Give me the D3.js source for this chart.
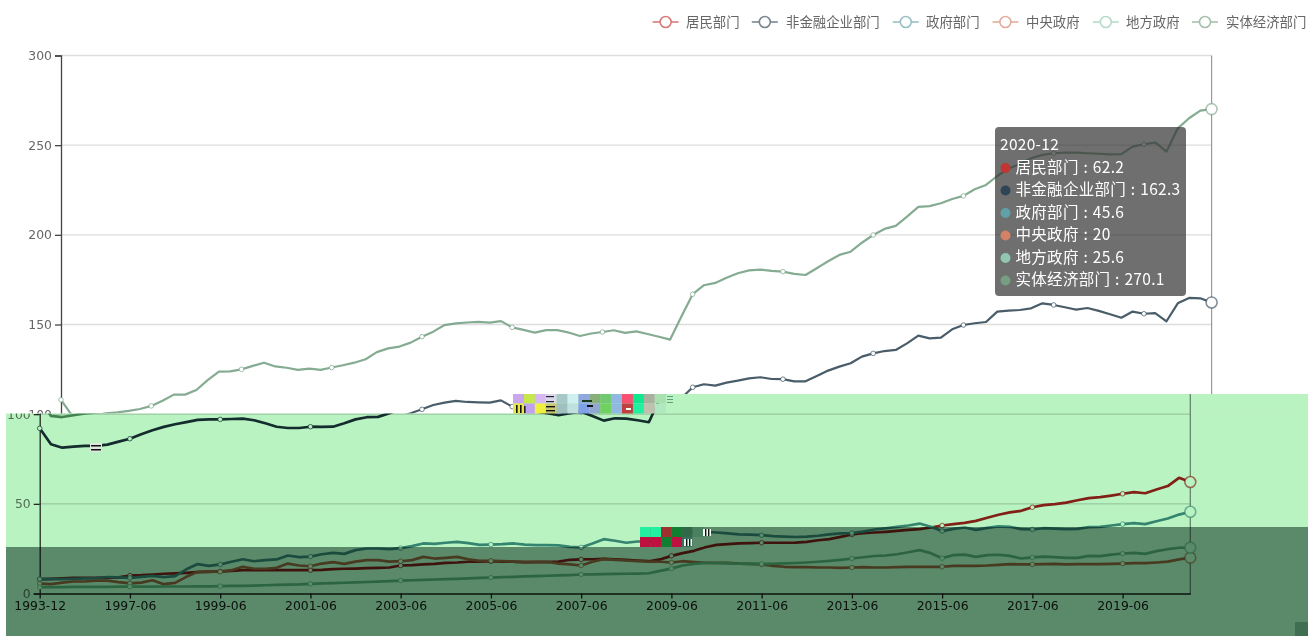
<!DOCTYPE html>
<html>

<head>
    <meta charset="utf-8">
    <style>
        html, body {
            margin: 0;
            padding: 0;
            background: #fff;
            overflow: hidden;
        }

        svg {
            display: block;
        }

        .axis text {
            font-family: "DejaVu Sans", sans-serif;
            font-size: 12.4px;
        }

        .x.axis text {
            fill: #333;
        }

        .legend-label {
            font-family: "Noto Sans CJK SC", sans-serif;
            font-size: 13.4px;
            fill: #666;
        }

        .tip-text {
            font-family: "Noto Sans CJK SC", sans-serif;
            font-size: 15.5px;
            letter-spacing: 0.3px;
            word-spacing: 1px;
            fill: #fff;
        }

        .tint {
            mix-blend-mode: multiply;
        }
    </style>
</head>

<body>
    <svg width="1308" height="636"></svg>

    <script src="https://d3js.org/d3.v7.min.js"></script>

    <script>
        // first three points are yearly, quarterly after that
        const months = ["1993-12", "1994-12", "1995-12",
            "1996-03", "1996-06", "1996-09", "1996-12",
            "1997-03", "1997-06", "1997-09", "1997-12",
            "1998-03", "1998-06", "1998-09", "1998-12",
            "1999-03", "1999-06", "1999-09", "1999-12",
            "2000-03", "2000-06", "2000-09", "2000-12",
            "2001-03", "2001-06", "2001-09", "2001-12",
            "2002-03", "2002-06", "2002-09", "2002-12",
            "2003-03", "2003-06", "2003-09", "2003-12",
            "2004-03", "2004-06", "2004-09", "2004-12",
            "2005-03", "2005-06", "2005-09", "2005-12",
            "2006-03", "2006-06", "2006-09", "2006-12",
            "2007-03", "2007-06", "2007-09", "2007-12",
            "2008-03", "2008-06", "2008-09", "2008-12",
            "2009-03", "2009-06", "2009-09", "2009-12",
            "2010-03", "2010-06", "2010-09", "2010-12",
            "2011-03", "2011-06", "2011-09", "2011-12",
            "2012-03", "2012-06", "2012-09", "2012-12",
            "2013-03", "2013-06", "2013-09", "2013-12",
            "2014-03", "2014-06", "2014-09", "2014-12",
            "2015-03", "2015-06", "2015-09", "2015-12",
            "2016-03", "2016-06", "2016-09", "2016-12",
            "2017-03", "2017-06", "2017-09", "2017-12",
            "2018-03", "2018-06", "2018-09", "2018-12",
            "2019-03", "2019-06", "2019-09", "2019-12",
            "2020-03", "2020-06", "2020-09", "2020-12"]

        const xTicks = ["1993-12", "1997-06", "1999-06", "2001-06", "2003-06", "2005-06", "2007-06",
            "2009-06", "2011-06", "2013-06", "2015-06", "2017-06", "2019-06"]
        const yTicks = [0, 50, 100, 150, 200, 250, 300]

        const names = ["居民部门", "非金融企业部门", "政府部门", "中央政府", "地方政府", "实体经济部门"]
        const colors = ["#c23531", "#2f4554", "#61a0a8", "#d48265", "#91c7ae", "#749f83"]

        const resident = [8, 8.2, 8.5, 8.7, 8.7, 8.7, 8.8, 9, 10, 10.2,
            10.6, 11, 11.2, 11.5, 11.9, 12.1, 12.3, 12.6, 13, 13,
            13, 13, 13, 13, 13, 13.2, 13.6, 13.8, 13.9, 14.1,
            14.3, 14.5, 15.6, 15.8, 16.2, 16.5, 17.1, 17.3, 17.7, 17.8,
            18, 17.8, 17.7, 17.5, 17.5, 17.5, 17.8, 18.8, 19, 19.1,
            19.3, 19.1, 18.8, 18.4, 18, 19, 21, 22.5, 23.8, 25.8,
            27.1, 27.5, 27.9, 28.1, 28.3, 28.3, 28.3, 28.4, 28.8, 29.7,
            30.3, 31.6, 32.9, 33.6, 34, 34.4, 34.9, 35.5, 35.9, 36.8,
            37.9, 38.7, 39.4, 40.5, 42.2, 43.9, 45.2, 46.1, 48.1, 49.3,
            49.8, 50.7, 52, 53.2, 53.7, 54.6, 55.6, 56.5, 55.9, 58,
            59.9, 64.5, 62.2]

        const nonfinancial = [92.1, 83.2, 81.3, 81.9, 82.3, 82.3, 83, 84.7, 86.3, 88.8,
            91, 92.9, 94.4, 95.6, 96.8, 97.1, 97.1, 97.3, 97.5, 96.6,
            94.9, 93, 92.3, 92.3, 93, 92.9, 93, 94.9, 97.1, 98.3,
            98.5, 100.5, 102.7, 105.1, 106.4, 107.4, 106.8, 106.6, 106.4, 107.7,
            104.2, 103.5, 103, 102.5, 101.5, 100.5, 99.5, 100.5, 101.4, 99,
            96.4, 97.7, 97.5, 96.6, 95.5, 109, 115, 116.7, 115.9, 117.6,
            118.7, 120, 120.6, 119.6, 119.5, 118.3, 118.3, 121.3, 124.3, 126.5,
            128.4, 132.1, 133.9, 135.2, 135.8, 139.5, 143.8, 142.3, 142.7, 147.3,
            149.7, 150.7, 151.4, 157.2, 157.7, 158.1, 159, 161.8, 160.9, 159.6,
            158.3, 159.2, 157.6, 155.7, 153.8, 157.2, 156, 156.3, 151.8, 161.8,
            164.8, 164.6, 162.3]

        const government = [8, 8, 8, 8.2, 8.4, 8.6, 9.2, 9, 8.7, 9.3,
            9.8, 9.1, 9.7, 13.5, 16.4, 15.4, 16.2, 17.7, 19.1, 18,
            18.6, 19, 21.2, 20.3, 20.6, 21.9, 22.7, 22.1, 24.2, 25.1,
            25.1, 24.7, 25.3, 26.4, 27.9, 27.7, 28.3, 28.8, 28.1, 27.1,
            27.3, 27.5, 27.9, 27.3, 27, 27, 26.8, 26, 25.7, 27.9,
            30.3, 29.4, 28.3, 29, 29, 29.5, 30, 32.5, 34, 34.4,
            34, 33.5, 33, 32.8, 32.5, 32, 31.7, 31.5, 31.7, 32.2,
            33, 33.5, 33.7, 34.5, 35.7, 36.4, 37.2, 37.9, 39, 37.2,
            34.8, 36, 36.8, 35.5, 36.6, 37.4, 37.2, 35.9, 35.7, 36.4,
            36.2, 35.9, 36, 37, 37.2, 37.9, 38.7, 39.2, 38.7, 40.3,
            41.8, 44, 45.6]

        const central = [5.5, 5.2, 6.1, 6.7, 6.7, 7.2, 7.2, 6.3, 5.6, 6.1,
            7.4, 5.2, 5.9, 9.3, 12.1, 12.3, 12.1, 13, 14.9, 13.8,
            13.8, 14.3, 16.7, 15.6, 15.2, 16.7, 17.5, 16.5, 17.8, 18.6,
            18.6, 17.8, 18, 18.6, 20.4, 19.5, 19.9, 20.4, 19.1, 18.2,
            18.2, 18, 17.8, 17.5, 17.7, 17.7, 16.7, 16.2, 15.6, 17.7,
            19.3, 18.8, 18.4, 18, 17.8, 17.7, 17.3, 18, 17.5, 17.1,
            17.1, 17.1, 16.7, 16.5, 16.2, 15.4, 14.9, 14.7, 14.7, 14.5,
            14.5, 14.3, 14.5, 14.7, 14.5, 14.5, 14.7, 14.9, 14.9, 14.9,
            14.9, 15.4, 15.4, 15.4, 15.6, 16, 16.4, 16.2, 16.2, 16.4,
            16.5, 16.2, 16.4, 16.4, 16.4, 16.5, 16.7, 16.9, 16.9, 17.3,
            17.8, 19, 20]

        const local = [3.5, 3.6, 3.6, 3.7, 3.7, 3.7, 3.7, 3.8, 3.8, 3.8,
            3.8, 3.9, 3.9, 3.9, 4, 4, 4.1, 4.2, 4.3, 4.4,
            4.6, 4.8, 5, 5.1, 5.4, 5.6, 5.8, 6, 6.2, 6.4,
            6.6, 6.9, 7.2, 7.4, 7.6, 7.8, 8, 8.2, 8.4, 8.7,
            8.9, 9.1, 9.3, 9.5, 9.7, 9.9, 10.1, 10.3, 10.6, 10.7,
            10.8, 10.9, 11, 11.1, 11.3, 12.6, 13.9, 15.6, 16.5, 17,
            17, 16.8, 16.6, 16.5, 16.5, 16.6, 16.8, 17, 17.3, 17.7,
            18.2, 18.8, 19.5, 20.2, 20.9, 21.2, 21.9, 23, 24.2, 22.5,
            19.7, 21.4, 21.7, 20.4, 21.4, 21.6, 21, 19.5, 20.1, 20.6,
            20.3, 19.9, 19.9, 21, 20.8, 21.7, 22.3, 22.7, 22.1, 23.6,
            24.7, 25.5, 25.6]

        const realEconomy = [108, 99, 98.4, 99.4, 100.4, 101, 101.8, 102.9, 104.6, 107.5,
            110.9, 110.9, 113.5, 119, 123.7, 123.9, 125, 126.9, 128.7, 126.6,
            125.9, 124.7, 125.4, 124.7, 126, 127.3, 128.7, 130.6, 134.6, 136.7,
            137.7, 139.9, 143.2, 146, 149.7, 150.6, 151.1, 151.5, 151, 151.9,
            148.4, 147, 145.5, 146.9, 146.9, 145.5, 143.6, 145, 145.8, 146.8,
            145.3, 146.2, 144.7, 143.2, 141.6, 154.4, 166.9, 171.9, 173.2, 176.1,
            178.6, 180.2, 180.6, 179.9, 179.5, 178.2, 177.6, 181.4, 185.3, 188.8,
            190.6, 195.6, 199.9, 203.3, 205, 210.2, 215.6, 216, 217.6, 220,
            221.7, 225.4, 227.8, 232.8, 237, 239.5, 242.7, 244.6, 245.5, 245.9,
            245.8, 245.5, 245.2, 244.9, 245, 249.2, 250.5, 251.5, 246.4, 259.4,
            265, 269.3, 270.1]

        const allSeries = [resident, nonfinancial, government, central, local, realEconomy]

        // values the tooltip shows for the last month
        const tipValues = ["62.2", "162.3", "45.6", "20", "25.6", "270.1"]

        // colour cells of the broken blocks in the image
        const blockTop = ["#c9a6ee", "#c6e84a", "#d8b8f0", "#d8d8e8", "#a8c8c8", "#d0f0f0", "#90a8e0",
            "#88b078", "#70c870", "#90b8e0", "#f85070", "#10e890", "#a8b0a0", "#a8e0b0"]
        const blockBottom = ["#e8e840", "#c0a0f0", "#f0f040", "#c8c870", "#a0c0c0", "#c0e0e0", "#80a0e8",
            "#90a8d0", "#70d060", "#90b8e0", "#c04040", "#20f0a0", "#c0c0b0", "#b0e8c0"]
        const block2Top = ["#20f0a0", "#20f0a0", "#a03030", "#108030", "#306848", "#4a8060"]
        const block2Bottom = ["#c01040", "#c01040", "#108030", "#c01040", "#3a7060", "#5a8a6a"]

        let width = 1308
        let height = 636
        let margin = { top: 55.5, right: 96.4, bottom: 42.5, left: 61 }

        let svg = d3.select("svg")

        let x = d3.scalePoint()
            .domain(months)
            .range([margin.left, width - margin.right])

        let y = d3.scaleLinear()
            .domain([0, 300])
            .range([height - margin.bottom, margin.top])

        let line = d3.line()
            .x((d, i) => x(months[i]))
            .y(d => y(d))

        let defs = svg.append("defs")

        // the whole picture is a soft, rescaled screenshot
        let soft = defs.append("filter")
            .attr("id", "soft")
            .attr("filterUnits", "userSpaceOnUse")
            .attr("color-interpolation-filters", "sRGB")
            .attr("x", 0).attr("y", 0)
            .attr("width", width).attr("height", height)
        soft.append("feGaussianBlur").attr("stdDeviation", 0.55)

        // bottom part has harder contrast than the top
        let softDark = defs.append("filter")
            .attr("id", "soft-dark")
            .attr("filterUnits", "userSpaceOnUse")
            .attr("color-interpolation-filters", "sRGB")
            .attr("x", 0).attr("y", 0)
            .attr("width", width).attr("height", height)
        softDark.append("feGaussianBlur").attr("stdDeviation", 0.55)
        let transfer = softDark.append("feComponentTransfer")
        transfer.append("feFuncR").attr("type", "gamma").attr("exponent", 1.3)
        transfer.append("feFuncG").attr("type", "gamma").attr("exponent", 1.3)
        transfer.append("feFuncB").attr("type", "gamma").attr("exponent", 1.3)

        let clipTop = defs.append("clipPath").attr("id", "clip-top")
        clipTop.append("rect").attr("x", 0).attr("y", 0).attr("width", 513).attr("height", 413.5)
        clipTop.append("rect").attr("x", 513).attr("y", 0).attr("width", width - 513).attr("height", 394)

        let clipLow = defs.append("clipPath").attr("id", "clip-low")
        clipLow.append("rect").attr("x", 6).attr("y", 413.5).attr("width", width - 6).attr("height", height - 413.5)
        clipLow.append("rect").attr("x", 513).attr("y", 394).attr("width", width - 513).attr("height", 20)

        // one chart drawing, used for the clean top and the shifted bottom of the image
        function drawChart(g, opts) {
            let lastMonth = months[months.length - 1]

            g.append("g")
                .selectAll("line")
                .data(yTicks.filter(d => d > 0))
                .join("line")
                .attr("x1", margin.left)
                .attr("x2", width - margin.right)
                .attr("y1", d => y(d))
                .attr("y2", d => y(d))
                .attr("stroke", "#ddd")
                .attr("stroke-width", 1.4)

            // crosshair on the last month
            g.append("line")
                .attr("x1", x(lastMonth))
                .attr("x2", x(lastMonth))
                .attr("y1", y(300))
                .attr("y2", y(0))
                .attr("stroke", "#999")
                .attr("stroke-width", 1.2)

            let yAxis = d3.axisLeft(y)
                .tickValues(yTicks.filter(opts.showY))
                .tickSize(6)
                .tickPadding(3)

            g.append("g")
                .attr("class", "y axis")
                .attr("transform", `translate(${margin.left},0)`)
                .call(yAxis)
                .call(a => a.selectAll(".domain, line").attr("stroke", "#444").attr("stroke-width", 1.3))
                .call(a => a.selectAll("text").attr("fill", opts.yFill))

            // the top copy never reaches the x axis
            if (opts.showX) {
                let xAxis = d3.axisBottom(x)
                    .tickValues(xTicks)
                    .tickSize(5)
                    .tickPadding(3)
                    .tickSizeOuter(0)

                g.append("g")
                    .attr("class", "x axis")
                    .attr("transform", `translate(0,${y(0)})`)
                    .call(xAxis)
                    .call(a => a.selectAll(".domain, line").attr("stroke", "#333").attr("stroke-width", 1.3))
            }

            allSeries.forEach(function (values, s) {
                let pts = values.map((v, i) => ({ month: months[i], value: v }))
                    .filter(d => xTicks.includes(d.month))

                let sg = g.append("g")

                sg.append("path")
                    .attr("fill", "none")
                    .attr("stroke", colors[s])
                    .attr("stroke-opacity", opts.lineOpacity)
                    .attr("stroke-width", opts.lineWidth)
                    .attr("stroke-linejoin", "round")
                    .attr("d", line(values))

                sg.selectAll("circle")
                    .data(pts)
                    .join("circle")
                    .attr("cx", d => x(d.month))
                    .attr("cy", d => y(d.value))
                    .attr("r", 2.3)
                    .attr("fill", "#fff")
                    .attr("stroke", colors[s])
                    .attr("stroke-opacity", 0.65)
                    .attr("stroke-width", 1)

                // highlighted symbol for the tooltip month
                sg.append("circle")
                    .attr("cx", x(lastMonth))
                    .attr("cy", y(values[values.length - 1]))
                    .attr("r", 5.5)
                    .attr("fill", "#fff")
                    .attr("stroke", colors[s])
                    .attr("stroke-opacity", 0.6)
                    .attr("stroke-width", 1.6)
            })

            if (opts.tip) {
                let tip = g.append("g")

                tip.append("rect")
                    .attr("x", 995).attr("y", 127)
                    .attr("width", 191).attr("height", 169)
                    .attr("rx", 4)
                    .attr("fill", "rgba(50,50,50,0.7)")

                tip.append("text")
                    .attr("class", "tip-text")
                    .attr("x", 1000).attr("y", 149.5)
                    .text(lastMonth)

                names.forEach(function (name, i) {
                    let rowY = 167 + i * 22.5
                    tip.append("circle")
                        .attr("cx", 1005.5).attr("cy", rowY + 1)
                        .attr("r", 5)
                        .attr("fill", colors[i])
                    tip.append("text")
                        .attr("class", "tip-text")
                        .attr("x", 1015.5).attr("y", rowY + 5.5)
                        .text(`${name} : ${tipValues[i]}`)
                })
            }
        }

        // top part of the image, chart in place
        let upperPart = svg.append("g")
            .attr("clip-path", "url(#clip-top)")
            .attr("filter", "url(#soft)")
        drawChart(upperPart, {
            tip: true, showX: false, showY: d => d >= 100,
            yFill: "#666", lineWidth: 2.2, lineOpacity: 0.88
        })

        // bottom part: same chart slid 21px left
        let lowerPart = svg.append("g")
            .attr("clip-path", "url(#clip-low)")
            .attr("filter", "url(#soft-dark)")
        drawChart(lowerPart.append("g").attr("transform", "translate(-21.3,0)"), {
            tip: false, showX: true, showY: d => d <= 100,
            yFill: "#8a8a8a", lineWidth: 2.7, lineOpacity: 1
        })

        // green tints over the bottom part
        let tint = svg.append("g").attr("class", "tints")
        let tints = [
            { x: 6, y: 413.5, w: width - 6, h: height - 413.5, c: "#b9f3c1" },
            { x: 513, y: 394, w: width - 513, h: 19.5, c: "#b9f3c1" },
            { x: 6, y: 547, w: 634, h: height - 547, c: "#7c918c" },
            { x: 640, y: 527, w: width - 640, h: height - 527, c: "#7c918c" }
        ]
        tint.selectAll("rect")
            .data(tints)
            .join("rect")
            .attr("class", "tint")
            .attr("x", d => d.x)
            .attr("y", d => d.y)
            .attr("width", d => d.w)
            .attr("height", d => d.h)
            .attr("fill", d => d.c)

        // broken image blocks
        let blocks = svg.append("g").attr("filter", "url(#soft)")

        function drawBlocks(cells, x0, y0, w, h) {
            blocks.append("g")
                .selectAll("rect")
                .data(cells)
                .join("rect")
                .attr("x", (d, i) => x0 + i * w)
                .attr("y", y0)
                .attr("width", w + 0.2)
                .attr("height", h)
                .attr("fill", d => d)
        }

        drawBlocks(blockTop, 513, 394, 10.9, 9.5)
        drawBlocks(blockBottom, 513, 403.5, 10.9, 10)
        drawBlocks(block2Top, 640, 527, 10.5, 10)
        drawBlocks(block2Bottom, 640, 537, 10.5, 10)

        // little noise marks: [x, y, w, h, colour]
        let noise = [
            [90, 443, 12, 9, "#dfe8df"], [91, 445, 10, 1.5, "#111"], [91, 449, 10, 1.5, "#111"],
            [1295, 622, 13, 14, "#3f6e50"],
            [516, 405, 1.6, 8, "#111"], [520, 405, 1.6, 8, "#111"], [524, 406, 1.6, 7, "#222"],
            [546, 396, 8, 1.2, "#223"], [546, 401, 8, 1.2, "#223"], [546, 406, 9, 1.4, "#111"], [546, 410, 9, 1.4, "#111"],
            [582, 400, 10, 2, "#1c3a1c"], [587, 405, 6, 2, "#111"],
            [626, 408, 5, 2, "#fff"], [667, 396, 6, 1, "#5f9f77"], [667, 399, 6, 1, "#5f9f77"], [667, 402, 6, 1, "#5f9f77"],
            [703, 529, 8, 7, "#f4fff4"], [705, 529, 1.4, 7, "#111"], [708, 529, 1.4, 7, "#111"],
            [684, 539, 8, 7, "#d8f8e8"], [686, 539, 1.4, 7, "#111"], [689, 539, 1.4, 7, "#111"]
        ]
        blocks.append("g")
            .selectAll("rect")
            .data(noise)
            .join("rect")
            .attr("x", d => d[0])
            .attr("y", d => d[1])
            .attr("width", d => d[2])
            .attr("height", d => d[3])
            .attr("fill", d => d[4])

        // legend, on top of the clean part
        let legend = svg.append("g").attr("filter", "url(#soft)")
        let legendIcon = [665.6, 764.8, 905.8, 1005.4, 1105.8, 1205]
        let legendText = [686, 786, 926, 1026, 1126, 1226]

        names.forEach(function (name, i) {
            let item = legend.append("g").attr("opacity", 0.65)
            item.append("line")
                .attr("x1", legendIcon[i] - 13).attr("x2", legendIcon[i] + 13)
                .attr("y1", 22).attr("y2", 22)
                .attr("stroke", colors[i])
                .attr("stroke-width", 1.6)
            item.append("circle")
                .attr("cx", legendIcon[i]).attr("cy", 22)
                .attr("r", 5.5)
                .attr("fill", "#fff")
                .attr("stroke", colors[i])
                .attr("stroke-width", 1.6)
            legend.append("text")
                .attr("class", "legend-label")
                .attr("x", legendText[i])
                .attr("y", 27)
                .text(name)
        })
    </script>
</body>

</html>
